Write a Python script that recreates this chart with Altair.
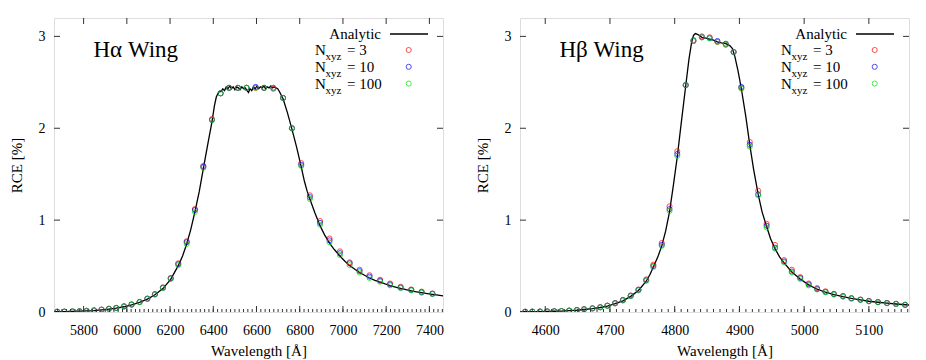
import altair as alt
import pandas as pd

FONT = "Liberation Serif"
W, H = 389, 294

# ---------------- H-alpha wing ----------------
ha_curve_x = [5663, 5678, 5711, 5748, 5781, 5814, 5848, 5883, 5917, 5951, 5987, 6022, 6059, 6095, 6130,
              6167, 6203, 6238, 6258, 6277, 6296, 6315, 6335, 6354, 6374, 6394, 6405, 6414, 6420, 6428,
              6436, 6444, 6452, 6460, 6468, 6476, 6484, 6492, 6500, 6508, 6516, 6524, 6532, 6540, 6548,
              6556, 6563, 6570, 6578, 6586, 6594, 6602, 6610, 6618, 6626, 6634, 6642, 6650, 6658, 6666,
              6674, 6682, 6690, 6698, 6706, 6723, 6743, 6764, 6785, 6807, 6822, 6835, 6847, 6870, 6894,
              6915, 6938, 6960, 6986, 7008, 7031, 7055, 7077, 7100, 7123, 7148, 7172, 7195, 7218, 7243,
              7267, 7292, 7316, 7340, 7364, 7390, 7414, 7440, 7463]
ha_curve_y = [0.003, 0.004, 0.005, 0.007, 0.009, 0.012, 0.016, 0.023, 0.032, 0.042, 0.057, 0.077, 0.104, 0.14, 0.188,
              0.255, 0.355, 0.505, 0.61, 0.74, 0.90, 1.09, 1.31, 1.56, 1.82, 2.07, 2.24, 2.34, 2.37, 2.40,
              2.40, 2.43, 2.41, 2.45, 2.43, 2.46, 2.43, 2.45, 2.42, 2.45, 2.44, 2.42, 2.45, 2.43, 2.44,
              2.41, 2.39, 2.43, 2.41, 2.45, 2.43, 2.46, 2.43, 2.45, 2.44, 2.46, 2.43, 2.45, 2.44, 2.46,
              2.44, 2.45, 2.44, 2.43, 2.40, 2.32, 2.17, 1.99, 1.80, 1.58, 1.42, 1.31, 1.23, 1.08, 0.94,
              0.84, 0.75, 0.68, 0.61, 0.555, 0.505, 0.465, 0.43, 0.40, 0.37, 0.345, 0.325, 0.305, 0.288, 0.272,
              0.257, 0.243, 0.231, 0.22, 0.21, 0.2, 0.192, 0.184, 0.175]

ha_pts_x = [5678, 5711, 5748, 5781, 5814, 5848, 5883, 5917, 5951, 5987, 6022, 6059, 6095, 6130, 6167,
            6203, 6238, 6277, 6315, 6354, 6394, 6434, 6473, 6514, 6554, 6596, 6635, 6678, 6723, 6764,
            6807, 6847, 6894, 6938, 6986, 7031, 7077, 7123, 7172, 7218, 7267, 7316, 7364, 7414]
ha_n3 = [0.004, 0.005, 0.007, 0.009, 0.013, 0.018, 0.026, 0.036, 0.045, 0.062, 0.083, 0.11, 0.147, 0.195, 0.268,
         0.37, 0.53, 0.77, 1.12, 1.59, 2.10, 2.38, 2.44, 2.44, 2.44, 2.44, 2.44, 2.43, 2.33, 2.00,
         1.62, 1.27, 0.99, 0.80, 0.66, 0.54, 0.46, 0.40, 0.35, 0.31, 0.275, 0.245, 0.222, 0.202]
ha_n10 = [0.003, 0.004, 0.006, 0.008, 0.012, 0.017, 0.025, 0.035, 0.044, 0.061, 0.081, 0.108, 0.144, 0.192, 0.264,
          0.365, 0.52, 0.76, 1.11, 1.58, 2.09, 2.38, 2.44, 2.44, 2.44, 2.45, 2.44, 2.44, 2.33, 2.00,
          1.60, 1.25, 0.97, 0.78, 0.64, 0.53, 0.445, 0.385, 0.34, 0.30, 0.265, 0.24, 0.215, 0.198]
ha_n100 = [0.003, 0.004, 0.006, 0.008, 0.012, 0.017, 0.025, 0.034, 0.043, 0.06, 0.08, 0.106, 0.142, 0.19, 0.26,
           0.36, 0.51, 0.74, 1.09, 1.57, 2.09, 2.38, 2.44, 2.44, 2.44, 2.44, 2.44, 2.44, 2.33, 2.00,
           1.59, 1.23, 0.95, 0.76, 0.62, 0.51, 0.43, 0.37, 0.33, 0.29, 0.26, 0.235, 0.21, 0.195]

# ---------------- H-beta wing ----------------
hb_curve_x = [4561, 4569, 4580, 4592, 4603, 4614, 4625, 4637, 4649, 4660, 4673, 4685, 4696, 4708, 4720,
              4732, 4744, 4756, 4762, 4767, 4774, 4780, 4786, 4792, 4798, 4804, 4810, 4817, 4822, 4826,
              4829, 4832, 4836, 4842, 4848, 4854, 4860, 4866, 4872, 4879, 4885, 4889, 4893, 4898, 4903,
              4910, 4916, 4922, 4929, 4935, 4942, 4948, 4955, 4962, 4969, 4981, 4994, 5007, 5020, 5033,
              5046, 5060, 5073, 5087, 5100, 5114, 5128, 5142, 5162]
hb_curve_y = [0.002, 0.003, 0.004, 0.005, 0.006, 0.008, 0.01, 0.014, 0.019, 0.027, 0.037, 0.049, 0.065, 0.09, 0.122,
              0.17, 0.235, 0.335, 0.41, 0.49, 0.60, 0.72, 0.88, 1.09, 1.38, 1.69, 2.05, 2.46, 2.75, 2.93,
              3.01, 3.03, 3.02, 2.99, 2.98, 2.97, 2.96, 2.94, 2.93, 2.92, 2.90, 2.87, 2.78, 2.62, 2.43,
              2.12, 1.82, 1.55, 1.28, 1.09, 0.93, 0.80, 0.69, 0.60, 0.535, 0.435, 0.36, 0.295, 0.248, 0.215,
              0.19, 0.167, 0.148, 0.132, 0.117, 0.106, 0.096, 0.087, 0.076]

hb_pts_x = [4569, 4580, 4592, 4603, 4614, 4625, 4637, 4649, 4660, 4673, 4685, 4696, 4708, 4720, 4732,
            4744, 4756, 4767, 4780, 4792, 4804, 4817, 4829, 4842, 4854, 4866, 4879, 4891, 4903, 4916,
            4929, 4942, 4955, 4969, 4981, 4994, 5007, 5020, 5033, 5046, 5060, 5073, 5087, 5100, 5114,
            5128, 5142, 5156]
hb_n3 = [0.004, 0.005, 0.006, 0.007, 0.009, 0.011, 0.016, 0.022, 0.031, 0.041, 0.053, 0.07, 0.098, 0.132, 0.18,
         0.245, 0.355, 0.515, 0.75, 1.15, 1.75, 2.47, 2.96, 3.00, 2.99, 2.94, 2.91, 2.83, 2.44, 1.85,
         1.32, 0.96, 0.73, 0.565, 0.46, 0.38, 0.31, 0.26, 0.225, 0.198, 0.175, 0.152, 0.136, 0.121, 0.109,
         0.099, 0.09, 0.08]
hb_n10 = [0.003, 0.004, 0.005, 0.006, 0.008, 0.01, 0.015, 0.021, 0.029, 0.039, 0.051, 0.068, 0.095, 0.128, 0.176,
          0.24, 0.345, 0.50, 0.73, 1.12, 1.72, 2.47, 2.95, 2.99, 2.98, 2.95, 2.92, 2.83, 2.45, 1.82,
          1.28, 0.94, 0.70, 0.55, 0.44, 0.37, 0.30, 0.25, 0.218, 0.193, 0.17, 0.148, 0.133, 0.118, 0.107,
          0.097, 0.088, 0.078]
hb_n100 = [0.003, 0.004, 0.005, 0.006, 0.008, 0.01, 0.015, 0.02, 0.028, 0.038, 0.05, 0.066, 0.093, 0.125, 0.172,
           0.235, 0.34, 0.49, 0.72, 1.10, 1.70, 2.47, 2.95, 2.99, 2.98, 2.94, 2.91, 2.83, 2.43, 1.80,
           1.27, 0.92, 0.69, 0.54, 0.43, 0.36, 0.29, 0.245, 0.215, 0.19, 0.168, 0.145, 0.13, 0.116, 0.105,
           0.095, 0.087, 0.077]

y_ticks = [0, 1, 2, 3]
ha_xticks = [5800, 6000, 6200, 6400, 6600, 6800, 7000, 7200, 7400]
hb_xticks = [4600, 4700, 4800, 4900, 5000, 5100]
ha_minor = list(range(5680, 7463, 20))
hb_minor = list(range(4570, 5162, 10))

series_names = ["N3", "N10", "N100"]
series_colors = ["#ff0000", "#0000ff", "#00dd00"]


def panel(title, cx, cy, px, s3, s10, s100, dom, xt, minor):
    xs = alt.Scale(domain=dom, nice=False, zero=False)
    ys = alt.Scale(domain=[0, 3.2], nice=False, zero=True)
    xaxis = alt.Axis(values=xt, ticks=False, domain=False, grid=False, labelFont=FONT,
                     labelFontSize=14, labelColor="black", labelPadding=11, labelOverlap=False,
                     labelFlush=False, format="d",
                     title="Wavelength [Å]", titleFont=FONT, titleFontSize=15, titleFontWeight="normal",
                     titleColor="black", titleX=W / 2 + 10, titleY=43, titleBaseline="alphabetic")
    yaxis = alt.Axis(values=y_ticks, ticks=False, domain=False, grid=False, labelFont=FONT,
                     labelFontSize=14, labelColor="black", labelPadding=9, format="d",
                     title="RCE [%]", titleFont=FONT, titleFontSize=15, titleFontWeight="normal",
                     titleColor="black", titleAngle=-90, titleX=-33, titleY=H / 2,
                     titleBaseline="alphabetic", titleAlign="center")

    curve = pd.DataFrame({"x": cx, "y": cy})
    line = alt.Chart(curve).mark_line(color="black", strokeWidth=1.3, clip=True).encode(
        x=alt.X("x:Q", scale=xs, axis=xaxis), y=alt.Y("y:Q", scale=ys, axis=yaxis))

    layers = [line]
    for name, vals, col in zip(series_names, [s3, s10, s100], series_colors):
        d = pd.DataFrame({"x": px, "y": vals})
        layers.append(alt.Chart(d).mark_point(shape="circle", filled=False, size=26, strokeWidth=1,
                                              color=col, clip=True).encode(
            x=alt.X("x:Q", scale=xs, axis=xaxis), y=alt.Y("y:Q", scale=ys, axis=yaxis)))

    # inward ticks (gnuplot style)
    xt_df = pd.DataFrame({"x": xt})
    mn_df = pd.DataFrame({"x": minor})
    yt_df = pd.DataFrame({"y": y_ticks[1:]})
    tick_col = "#333333"
    layers.append(alt.Chart(xt_df).mark_rule(color=tick_col).encode(
        x=alt.X("x:Q", scale=xs, axis=xaxis), y=alt.value(H), y2=alt.value(H - 6)))
    layers.append(alt.Chart(xt_df).mark_rule(color=tick_col).encode(
        x=alt.X("x:Q", scale=xs, axis=xaxis), y=alt.value(0), y2=alt.value(6)))
    layers.append(alt.Chart(mn_df).mark_rule(color=tick_col).encode(
        x=alt.X("x:Q", scale=xs, axis=xaxis), y=alt.value(H), y2=alt.value(H - 3)))
    layers.append(alt.Chart(yt_df).mark_rule(color=tick_col).encode(
        y=alt.Y("y:Q", scale=ys, axis=yaxis), x=alt.value(0), x2=alt.value(6)))
    layers.append(alt.Chart(yt_df).mark_rule(color=tick_col).encode(
        y=alt.Y("y:Q", scale=ys, axis=yaxis), x=alt.value(W - 6), x2=alt.value(W)))

    # panel label
    layers.append(alt.Chart(pd.DataFrame({"t": [title]})).mark_text(
        font=FONT, fontSize=23, align="left", baseline="alphabetic", color="black").encode(
        x=alt.value(39.5), y=alt.value(39), text="t:N"))

    # key
    layers.append(alt.Chart(pd.DataFrame({"t": ["Analytic"]})).mark_text(
        font=FONT, fontSize=15, align="right", baseline="alphabetic", color="black").encode(
        x=alt.value(327), y=alt.value(21), text="t:N"))
    layers.append(alt.Chart(pd.DataFrame({"t": ["Analytic"]})).mark_rule(
        color="black", strokeWidth=1.3).encode(x=alt.value(336), x2=alt.value(374), y=alt.value(16)))
    key_rows = ["= 3", "= 10", "= 100"]
    for i, (lab, col) in enumerate(zip(key_rows, series_colors)):
        yb = 37 + 16.8 * i
        layers.append(alt.Chart(pd.DataFrame({"t": ["N"]})).mark_text(
            font=FONT, fontSize=15, align="left", baseline="alphabetic", color="black").encode(
            x=alt.value(261), y=alt.value(yb), text="t:N"))
        layers.append(alt.Chart(pd.DataFrame({"t": ["xyz"]})).mark_text(
            font=FONT, fontSize=11, align="left", baseline="alphabetic", color="black").encode(
            x=alt.value(271.5), y=alt.value(yb + 5), text="t:N"))
        layers.append(alt.Chart(pd.DataFrame({"t": [lab]})).mark_text(
            font=FONT, fontSize=15, align="left", baseline="alphabetic", color="black").encode(
            x=alt.value(293), y=alt.value(yb), text="t:N"))
        layers.append(alt.Chart(pd.DataFrame({"t": [lab]})).mark_point(
            shape="circle", filled=False, size=26, strokeWidth=1, color=col).encode(
            x=alt.value(354.7), y=alt.value(yb - 5)))

    return alt.layer(*layers).properties(width=W, height=H)


left = panel("Hα Wing", ha_curve_x, ha_curve_y, ha_pts_x, ha_n3, ha_n10, ha_n100,
             [5663, 7463], ha_xticks, ha_minor)
right = panel("Hβ Wing", hb_curve_x, hb_curve_y, hb_pts_x, hb_n3, hb_n10, hb_n100,
              [4561, 5162], hb_xticks, hb_minor)

chart = alt.hconcat(left, right, spacing=30).properties(
    padding={"left": 0, "top": 9, "right": 0, "bottom": 0}
).configure_view(stroke="#222222", strokeWidth=1).configure(
    background="white", font=FONT
).configure_axis(labelFont=FONT, titleFont=FONT).configure_text(font=FONT)

chart.save("out.html", embed_options={"renderer": "svg", "actions": False})
